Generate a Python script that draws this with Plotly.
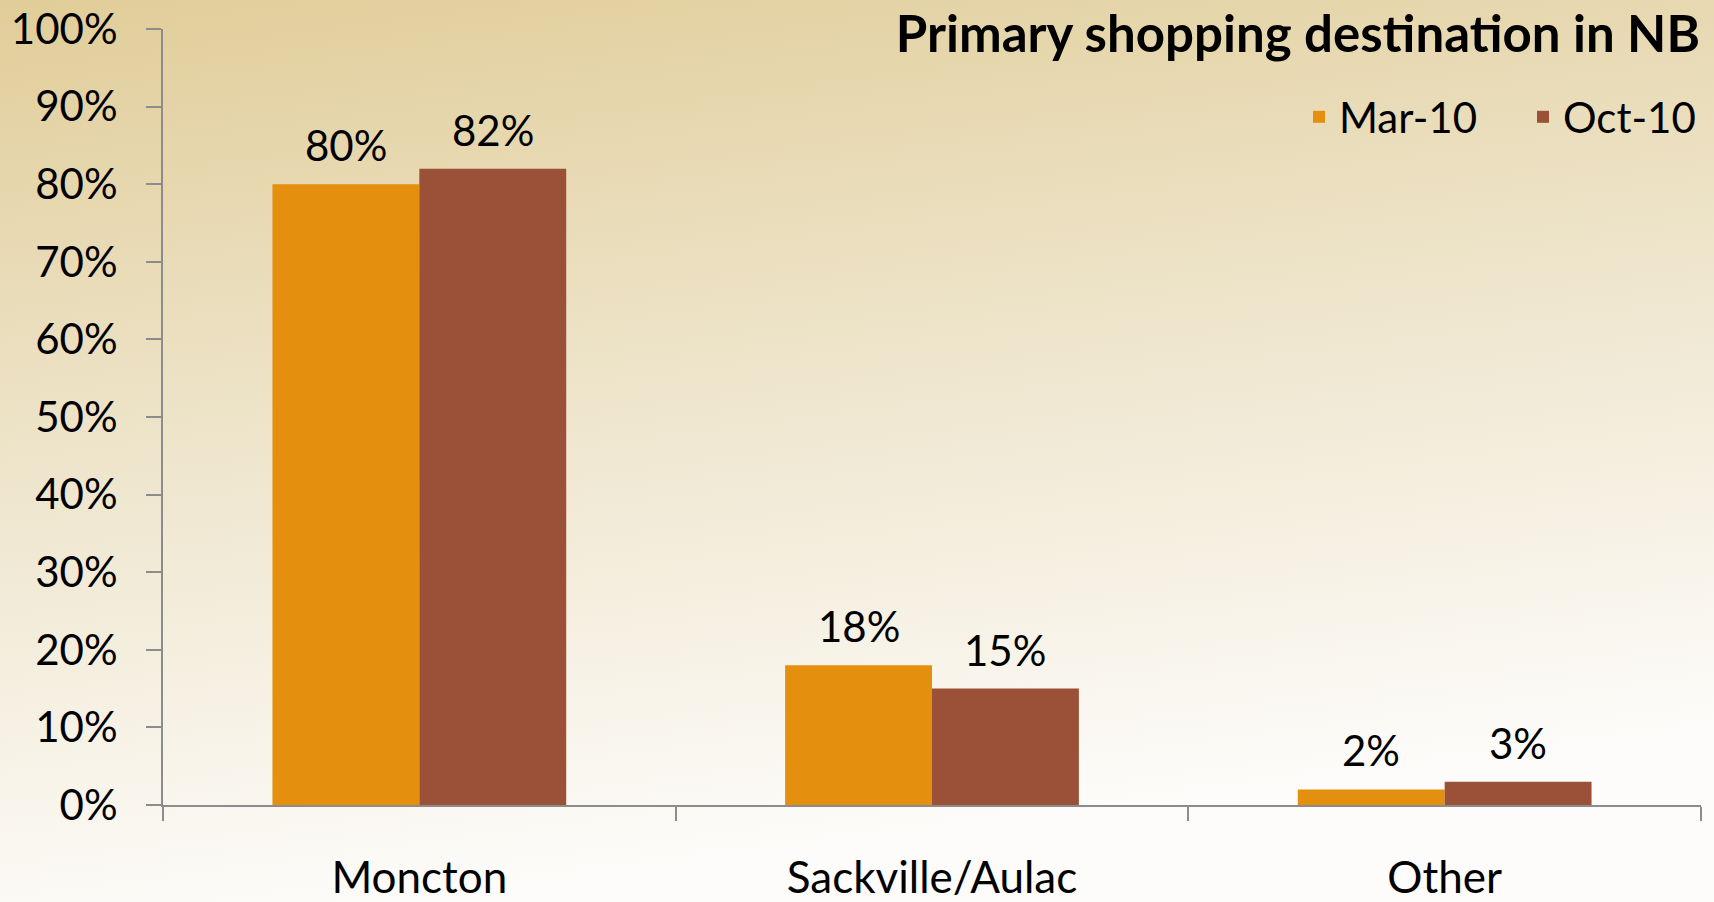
import base64
import plotly.graph_objects as go

categories = ["Moncton", "Sackville/Aulac", "Other"]
series_names = ["Mar-10", "Oct-10"]
mar_10 = [0.80, 0.18, 0.02]
oct_10 = [0.82, 0.15, 0.03]
y_ticks = [0, 0.1, 0.2, 0.3, 0.4, 0.5, 0.6, 0.7, 0.8, 0.9, 1.0]
title_text = "Primary shopping destination in NB"

W, H = 1714, 902
ML, MR, MT, MB = 163, 13, 29, 97
PW, PH = W - ML - MR, H - MT - MB
FONT = "Lato"
BARGAP = 0.427
BAR_PX = PW / len(categories) * (1 - BARGAP) / 2

bg_svg = (
    '<svg xmlns="http://www.w3.org/2000/svg" width="1714" height="902" preserveAspectRatio="none">'
    '<defs><linearGradient id="g" x1="0" y1="0" x2="0.25" y2="1">'
    '<stop offset="0" stop-color="#E1CD99"/>'
    '<stop offset="0.5" stop-color="#EEE5CC"/>'
    '<stop offset="1" stop-color="#FDFCFA"/>'
    '</linearGradient></defs>'
    '<rect width="1714" height="902" fill="url(#g)"/></svg>'
)
bg_uri = "data:image/svg+xml;base64," + base64.b64encode(bg_svg.encode()).decode()

fig = go.Figure()
annotations = []
series = [(series_names[0], mar_10, "#E48F0D", -1), (series_names[1], oct_10, "#9B5038", 1)]
for name, vals, color, side in series:
    fig.add_trace(go.Bar(
        name=name, x=categories, y=vals,
        marker=dict(color=color, line=dict(width=0)),
    ))
    for c, v in zip(categories, vals):
        annotations.append(dict(
            x=c, y=v, xref="x", yref="y", text=f"{v:.0%}", showarrow=False,
            xanchor="center", yanchor="bottom", xshift=side * BAR_PX / 2, yshift=12,
            font=dict(family=FONT, size=42, color="black"),
        ))

fig.update_layout(
    width=W, height=H,
    margin=dict(l=ML, r=MR, t=MT, b=MB, pad=0, autoexpand=False),
    paper_bgcolor="#EEE5CC", plot_bgcolor="rgba(0,0,0,0)",
    barmode="group", bargap=BARGAP, bargroupgap=0,
    font=dict(family=FONT, color="black"),
    title=dict(text="<b>" + title_text + "</b>", x=1700 / W, xanchor="right", xref="container",
               y=1 - 34 / H, yanchor="middle", yref="container",
               font=dict(family=FONT, size=51, color="black")),
    legend=dict(orientation="h", x=(1299 - ML) / PW, xanchor="left", y=(805 - 117) / PH, yanchor="middle",
                font=dict(family=FONT, size=42, color="black"), bgcolor="rgba(0,0,0,0)",
                itemwidth=30, entrywidth=179, traceorder="normal"),
    images=[dict(source=bg_uri, xref="paper", yref="paper",
                 x=-ML / PW, y=1 + MT / PH, sizex=W / PW, sizey=H / PH,
                 xanchor="left", yanchor="top", sizing="stretch", layer="below")],
    annotations=annotations,
    showlegend=True,
)
fig.update_yaxes(range=[0, 1], tickvals=y_ticks, tickformat=".0%", showgrid=False, zeroline=False,
                 showline=True, linecolor="#8C8C8C", linewidth=2, ticks="outside", ticklen=15,
                 tickwidth=2, tickcolor="#8C8C8C", tickfont=dict(family=FONT, size=42, color="black"),
                 ticklabelstandoff=20, automargin=False)
fig.update_xaxes(showgrid=False, showline=True, linecolor="#8C8C8C", linewidth=2,
                 ticks="outside", tickson="boundaries", ticklen=14, tickwidth=2, tickcolor="#8C8C8C",
                 tickfont=dict(family=FONT, size=44, color="black"), ticklabelstandoff=33,
                 automargin=False)

fig.write_html("out.html", config={"displayModeBar": False},
               post_script="document.body.style.margin='0';document.documentElement.style.overflow='hidden';")
